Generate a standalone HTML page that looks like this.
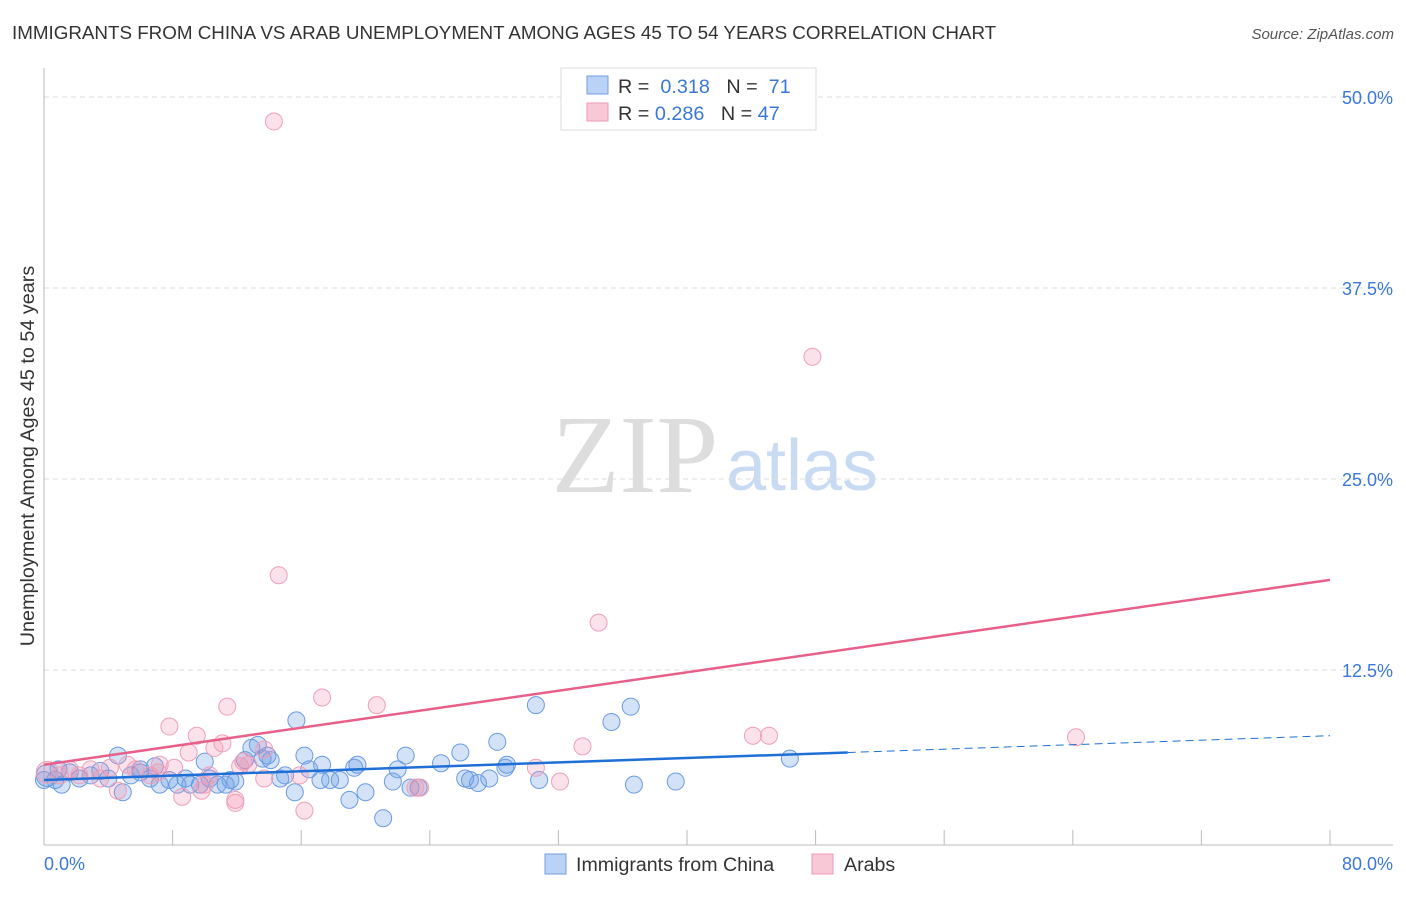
<!DOCTYPE html>
<html><head><meta charset="utf-8"><style>
body{margin:0;background:#fff;width:1406px;height:892px;overflow:hidden;font-family:"Liberation Sans",sans-serif}
</style></head><body>
<svg width="1406" height="892">
<text x="12" y="39" font-size="18.8" fill="#333">IMMIGRANTS FROM CHINA VS ARAB UNEMPLOYMENT AMONG AGES 45 TO 54 YEARS CORRELATION CHART</text>
<text x="1394" y="39" font-size="15" fill="#555" text-anchor="end" font-style="italic">Source: ZipAtlas.com</text>
<text x="635" y="492" font-size="111" fill="#ddd" text-anchor="middle" font-family="Liberation Serif,serif">ZIP</text>
<text x="802" y="490" font-size="72" fill="#c9daf3" text-anchor="middle">atlas</text>
<g id="grid"></g>
<line x1="44" y1="68" x2="44" y2="845" stroke="#bbb"/>
<line x1="44" y1="845" x2="1393" y2="845" stroke="#bbb"/>
<g id="ticks"></g>
<text x="44" y="870" font-size="18" fill="#3a78d8">0.0%</text>
<text x="1393" y="870" font-size="18" fill="#3a78d8" text-anchor="end">80.0%</text>
<text transform="translate(34,456) rotate(-90)" font-size="19.8" fill="#333" text-anchor="middle">Unemployment Among Ages 45 to 54 years</text>
<g id="pts"></g>
<g id="lines"></g>
<g>
<rect x="561" y="68" width="255" height="62" fill="#fff" stroke="#ddd"/>
<rect x="587" y="76" width="21" height="18" fill="#b9d2f5" stroke="#6f9fe0"/>
<rect x="587" y="103" width="21" height="18" fill="#f9c8d6" stroke="#ec9ab3"/>
<text x="618" y="93" font-size="19.8" fill="#333">R = <tspan fill="#3a78d8">&#160;0.318</tspan>&#160;&#160;&#160;N = &#160;<tspan fill="#3a78d8">71</tspan></text>
<text x="618" y="120" font-size="19.8" fill="#333">R = <tspan fill="#3a78d8">0.286</tspan>&#160;&#160;&#160;N = <tspan fill="#3a78d8">47</tspan></text>
</g>
<g>
<rect x="545" y="854" width="21" height="20" fill="#b9d2f5" stroke="#6f9fe0"/>
<text x="576" y="871" font-size="19.6" fill="#333">Immigrants from China</text>
<rect x="812" y="854" width="21" height="20" fill="#f9c8d6" stroke="#ec9ab3"/>
<text x="844" y="871" font-size="19.6" fill="#333">Arabs</text>
</g>
</svg>
<script>
const yTicks=[12.5,25,37.5,50];
const yTickLabels=["12.5%","25.0%","37.5%","50.0%"];
const xTicks=[8,16,24,32,40,48,56,64,72,80];
const chinaX=[0.2,0.7,1.1,1.6,2.2,2.9,3.5,4.0,4.6,4.9,5.4,6.0,6.6,6.9,7.2,7.8,8.3,8.8,9.1,10.0,10.3,10.8,11.3,11.9,12.5,12.9,13.3,13.6,13.9,14.7,15.0,15.6,15.7,16.2,16.5,17.3,17.8,18.4,19.0,19.3,19.5,20.0,21.1,21.7,22.0,22.5,22.8,23.3,24.7,25.9,26.2,26.5,27.0,27.7,28.2,28.7,28.8,30.6,30.8,35.3,36.5,36.7,39.3,46.4,0.0,0.9,6.0,9.7,11.6,14.1,17.2];
const chinaY=[5.6,5.3,5.0,5.8,5.4,5.6,5.9,5.4,6.9,4.5,5.6,5.8,5.4,6.2,5.0,5.3,5.0,5.4,5.0,6.5,5.4,5.0,5.0,5.2,6.6,7.4,7.6,6.7,6.9,5.4,5.6,4.5,9.2,6.9,6.0,6.3,5.3,5.3,4.0,6.1,6.3,4.5,2.8,5.2,6.0,6.9,4.8,4.8,6.4,7.1,5.4,5.3,5.1,5.4,7.8,6.1,6.3,10.2,5.3,9.1,10.1,5.0,5.2,6.7,5.3,6.0,6.0,5.0,5.3,6.6,5.3];
const arabX=[14.3,47.8,14.6,34.5,17.3,20.7,11.4,7.8,9.5,9.0,10.6,11.1,13.7,12.4,12.2,12.7,8.1,7.2,5.7,5.2,4.1,3.5,2.9,1.6,1.0,0.2,8.6,9.8,11.9,16.2,13.7,23.4,30.6,32.1,33.5,44.1,45.1,64.2,6.6,10.0,4.6,2.2,7.1,11.9,10.3,15.9,23.1];
const arabY=[48.4,33.0,18.7,15.6,10.7,10.2,10.1,8.8,8.2,7.1,7.4,7.7,7.3,6.5,6.2,6.3,6.1,6.3,6.0,6.3,6.1,5.4,6.0,6.0,5.6,5.8,4.2,4.6,3.8,3.3,5.4,4.8,6.1,5.2,7.5,8.2,8.2,8.1,5.6,5.0,4.6,5.6,5.8,4.0,5.6,5.6,4.8];
const chinaTrend=[[0,5.3],[50,7.1],[80,8.2]];
const arabTrend=[[0,6.3],[80,18.4]];
const NS="http://www.w3.org/2000/svg";
const X=v=>44+v/80*1286, Y=v=>861-v*15.28;
function mk(t,a,p){const e=document.createElementNS(NS,t);for(const k in a)e.setAttribute(k,a[k]);p.appendChild(e);return e;}
const grid=document.getElementById('grid');
yTicks.forEach((t,i)=>{
 const l=mk('line',{x1:44,x2:1393,y1:Y(t),y2:Y(t),stroke:'#ddd','stroke-dasharray':'5,4'},grid);
 
 
 const tx=mk('text',{x:1393,y:Y(t)+7,'font-size':18,fill:'#3a78d8','text-anchor':'end'},grid);
 tx.textContent=yTickLabels[i];
 
 
});
const tk=document.getElementById('ticks');
xTicks.forEach(t=>{
 const l=mk('line',{x1:X(t),x2:X(t),y1:830,y2:845,stroke:'#bbb'},tk);
 
 
});
const pts=document.getElementById('pts');
chinaX.forEach((x,i)=>{
 const c=mk('circle',{cx:X(x),cy:Y(chinaY[i]),r:i==0?11:8.5,fill:'rgba(110,160,230,0.3)',stroke:'#6b9be2','stroke-width':1},pts);
 
 
});
arabX.forEach((x,i)=>{
 const c=mk('circle',{cx:X(x),cy:Y(arabY[i]),r:i==25?11:8.5,fill:'rgba(240,140,170,0.25)',stroke:'#eea0b8','stroke-width':1},pts);
 
 
});
const ln=document.getElementById('lines');
const b1=mk('line',{x1:X(chinaTrend[0][0]),y1:Y(chinaTrend[0][1]),x2:X(chinaTrend[1][0]),y2:Y(chinaTrend[1][1]),stroke:'#1f6fd6','stroke-width':2.5},ln);


const b2=mk('line',{x1:X(chinaTrend[1][0]),y1:Y(chinaTrend[1][1]),x2:X(chinaTrend[2][0]),y2:Y(chinaTrend[2][1]),stroke:'#1f6fd6','stroke-width':1,'stroke-dasharray':'8,5'},ln);


const p1=mk('line',{x1:X(arabTrend[0][0]),y1:Y(arabTrend[0][1]),x2:X(arabTrend[1][0]),y2:Y(arabTrend[1][1]),stroke:'#e8608a','stroke-width':2.5},ln);


</script>
</body></html>
